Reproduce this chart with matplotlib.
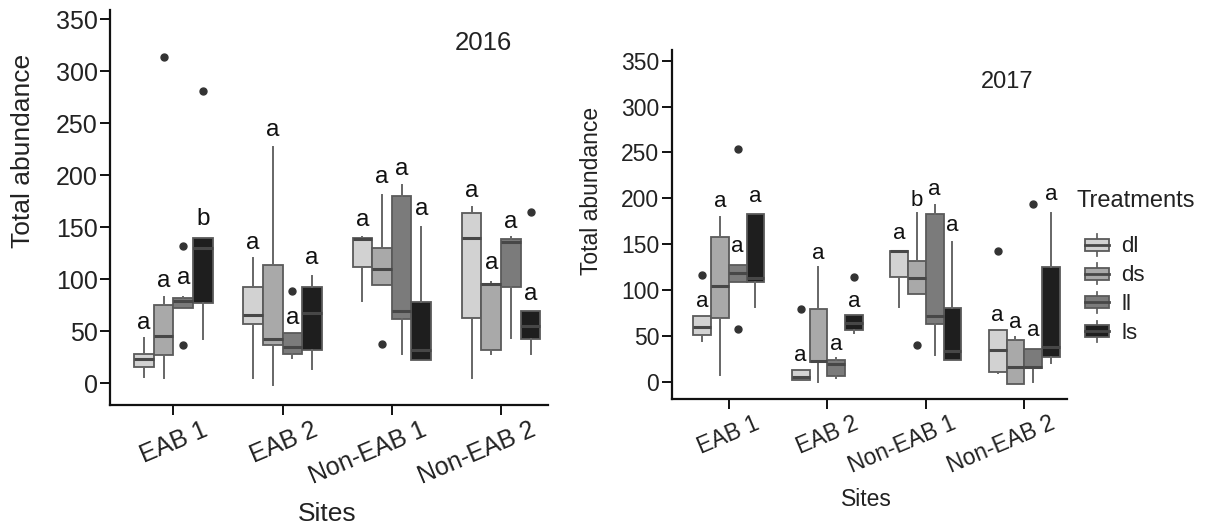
import matplotlib
matplotlib.use('Agg')
import matplotlib.pyplot as plt
import matplotlib.transforms as mtransforms
from matplotlib.legend_handler import HandlerBase
from matplotlib.patches import Rectangle, Patch
from matplotlib.lines import Line2D

plt.rcParams['font.family'] = ['Liberation Sans', 'DejaVu Sans']

sites = ['EAB 1', 'EAB 2', 'Non-EAB 1', 'Non-EAB 2']
treatments = ['dl', 'ds', 'll', 'ls']

# ---------------- 2016 (rows: dl, ds, ll, ls; columns: sites) ----------------
whislo_2016 = [[6, 5, 79, 5], [5, -2, 95, 28], [72, 24, 28, 44], [43, 14, 22, 28]]
q1_2016 = [[16, 57, 112, 63], [27, 37, 95, 32], [72, 28, 62, 93], [77, 32, 22, 43]]
med_2016 = [[23, 66, 139, 140], [46, 43, 110, 96], [79, 35, 70, 136], [130, 68, 32, 55]]
q3_2016 = [[28, 93, 140, 164], [75, 114, 130, 96], [82, 48, 180, 139], [140, 93, 78, 70]]
whishi_2016 = [[44, 121, 141, 170], [83, 227, 181, 97], [83, 48, 191, 141], [140, 103, 150, 70]]
fliers_2016 = [[[], [], [], []],
               [[314], [], [38], []],
               [[132, 37], [89], [], []],
               [[281], [], [], [165]]]
letters_2016 = [['a', 'a', 'a', 'a'], ['a', 'a', 'a', 'a'],
                ['a', 'a', 'a', 'a'], ['b', 'a', 'a', 'a']]
letter_y_2016 = [[58, 135, 157, 185], [98, 244, 198, 116],
                 [101, 63, 206, 155], [158, 121, 168, 86]]

# ---------------- 2017 ----------------
whislo_2017 = [[44, 2, 81, 9], [7, 0, 96, -2], [109, 4, 29, 0], [82, 53, 24, 20]]
q1_2017 = [[51, 2, 114, 11], [70, 22, 96, -2], [109, 6, 63, 15], [109, 56, 24, 27]]
med_2017 = [[60, 5, 142, 35], [104, 23, 113, 16], [118, 19, 72, 16], [113, 64, 33, 38]]
q3_2017 = [[72, 13, 143, 56], [158, 79, 132, 46], [127, 24, 183, 36], [183, 73, 80, 125]]
whishi_2017 = [[72, 13, 143, 56], [180, 125, 184, 49], [127, 26, 193, 36], [183, 73, 152, 184]]
fliers_2017 = [[[116], [79], [], [143]],
               [[], [], [40], []],
               [[254, 57], [], [], [194]],
               [[], [114], [], []]]
letters_2017 = [['a', 'a', 'a', 'a'], ['a', 'a', 'b', 'a'],
                ['a', 'a', 'a', 'a'], ['a', 'a', 'a', 'a']]
letter_y_2017 = [[87, 29, 162, 72], [196, 140, 198, 65],
                 [147, 41, 210, 56], [202, 87, 170, 204]]

yticks = [0, 50, 100, 150, 200, 250, 300, 350]

# ---------------- styling ----------------
fills = ['#d2d2d2', '#a9a9a9', '#7b7b7b', '#1e1e1e']
edge = '#5a5a5a'
med_col = '#474747'
offsets = [-0.27, -0.09, 0.09, 0.27]
box_w = 0.18

fig = plt.figure(figsize=(12.05, 5.31), dpi=100)
ax1 = fig.add_axes([0.0913, 0.2373, 0.3635, 0.7439])
ax2 = fig.add_axes([0.5574, 0.248, 0.3278, 0.6578])


def draw_panel(ax, lo, q1, med, q3, hi, fl, letters, ly, title, title_xy,
               fs_tick, fs_lab, fs_let, fs_title, ylim, xshift, ylab_xy, xlab_xy):
    for j in range(len(treatments)):
        stats = []
        for i in range(len(sites)):
            stats.append(dict(whislo=lo[j][i], q1=q1[j][i], med=med[j][i],
                              q3=q3[j][i], whishi=hi[j][i], fliers=fl[j][i]))
        pos = [i + 1 + offsets[j] for i in range(len(sites))]
        ax.bxp(stats, positions=pos, widths=box_w, patch_artist=True,
               showcaps=False, manage_ticks=False,
               boxprops=dict(facecolor=fills[j], edgecolor=edge, linewidth=1.3),
               medianprops=dict(color=med_col, linewidth=2.2),
               whiskerprops=dict(color='#666666', linewidth=1.4),
               flierprops=dict(marker='o', markerfacecolor='#333333',
                               markeredgecolor='#333333', markersize=5))
        for i in range(len(sites)):
            ax.text(pos[i], ly[j][i], letters[j][i], ha='center', va='center',
                    fontsize=fs_let, color='#111111')
    ax.set_xlim(0.42, 4.43)
    ax.set_ylim(*ylim)
    for s in ['top', 'right']:
        ax.spines[s].set_visible(False)
    for s in ['left', 'bottom']:
        ax.spines[s].set_linewidth(1.6)
        ax.spines[s].set_color('#111111')
    ax.tick_params(axis='both', length=7, width=1.4, color='#111111', pad=2)
    ax.set_yticks(yticks)
    ax.set_yticklabels([str(v) for v in yticks], fontsize=fs_tick, color='#222222')
    ax.set_xticks(range(1, len(sites) + 1))
    ax.set_xticklabels(sites, fontsize=fs_tick, rotation=23, ha='right',
                       va='top', color='#222222')
    off = mtransforms.ScaledTranslation(xshift, 0, fig.dpi_scale_trans)
    for lab in ax.xaxis.get_majorticklabels():
        lab.set_transform(lab.get_transform() + off)
    ax.set_ylabel('Total abundance', fontsize=fs_lab, color='#222222')
    ax.yaxis.set_label_coords(*ylab_xy)
    ax.set_xlabel('Sites', fontsize=fs_lab, color='#222222')
    ax.xaxis.set_label_coords(*xlab_xy)
    ax.text(title_xy[0], title_xy[1], title, transform=ax.transAxes,
            ha='center', va='center', fontsize=fs_title, color='#222222')


draw_panel(ax1, whislo_2016, q1_2016, med_2016, q3_2016, whishi_2016,
           fliers_2016, letters_2016, letter_y_2016, '2016',
           ((483 - 110) / 438, (405 - 43) / 395),
           18, 19, 17.5, 18.5, (-20.8, 359), 0.38, (-0.171, 0.643), (0.495, -0.245))

draw_panel(ax2, whislo_2017, q1_2017, med_2017, q3_2017, whishi_2017,
           fliers_2017, letters_2017, letter_y_2017, '2017',
           ((1007 - 671.7) / 395, (399.3 - 82) / 349.3),
           16.5, 16.5, 16, 17, (-19.2, 361.7), 0.34, (-0.173, 0.596), (0.494, -0.254))


class BoxHandler(HandlerBase):
    def create_artists(self, legend, orig_handle, xdescent, ydescent, width,
                       height, fontsize, trans):
        shift = 6
        x0 = -xdescent + shift
        y0 = -ydescent
        fc = orig_handle.get_facecolor()
        b0 = y0 + 0.22 * height
        bh = 0.56 * height
        rect = Rectangle((x0, b0), width, bh, facecolor=fc, edgecolor=edge,
                         linewidth=1.3, transform=trans)
        xm = x0 + width / 2
        w1 = Line2D([xm, xm], [b0 + bh, y0 + height], color='#666666',
                    linewidth=1.3, transform=trans)
        w2 = Line2D([xm, xm], [y0, b0], color='#666666', linewidth=1.3,
                    transform=trans)
        m = Line2D([x0, x0 + width], [b0 + bh / 2, b0 + bh / 2], color=med_col,
                   linewidth=2.0, transform=trans)
        return [w1, w2, rect, m]


handles = [Patch(facecolor=c, edgecolor=edge) for c in fills]
leg = fig.legend(handles=handles, labels=treatments,
                 handler_map={Patch: BoxHandler()}, title='Treatments',
                 loc='upper left', bbox_to_anchor=(1076.7 / 1205, 1 - 190 / 531),
                 frameon=False, alignment='left', fontsize=16, title_fontsize=17,
                 handlelength=1.1, handleheight=1.1, labelspacing=0.25,
                 handletextpad=0.9, borderpad=0, borderaxespad=0)
leg._legend_box.sep = 16
for t in leg.get_texts():
    t.set_color('#222222')
leg.get_title().set_color('#222222')

fig.savefig('out.png', dpi=100)
